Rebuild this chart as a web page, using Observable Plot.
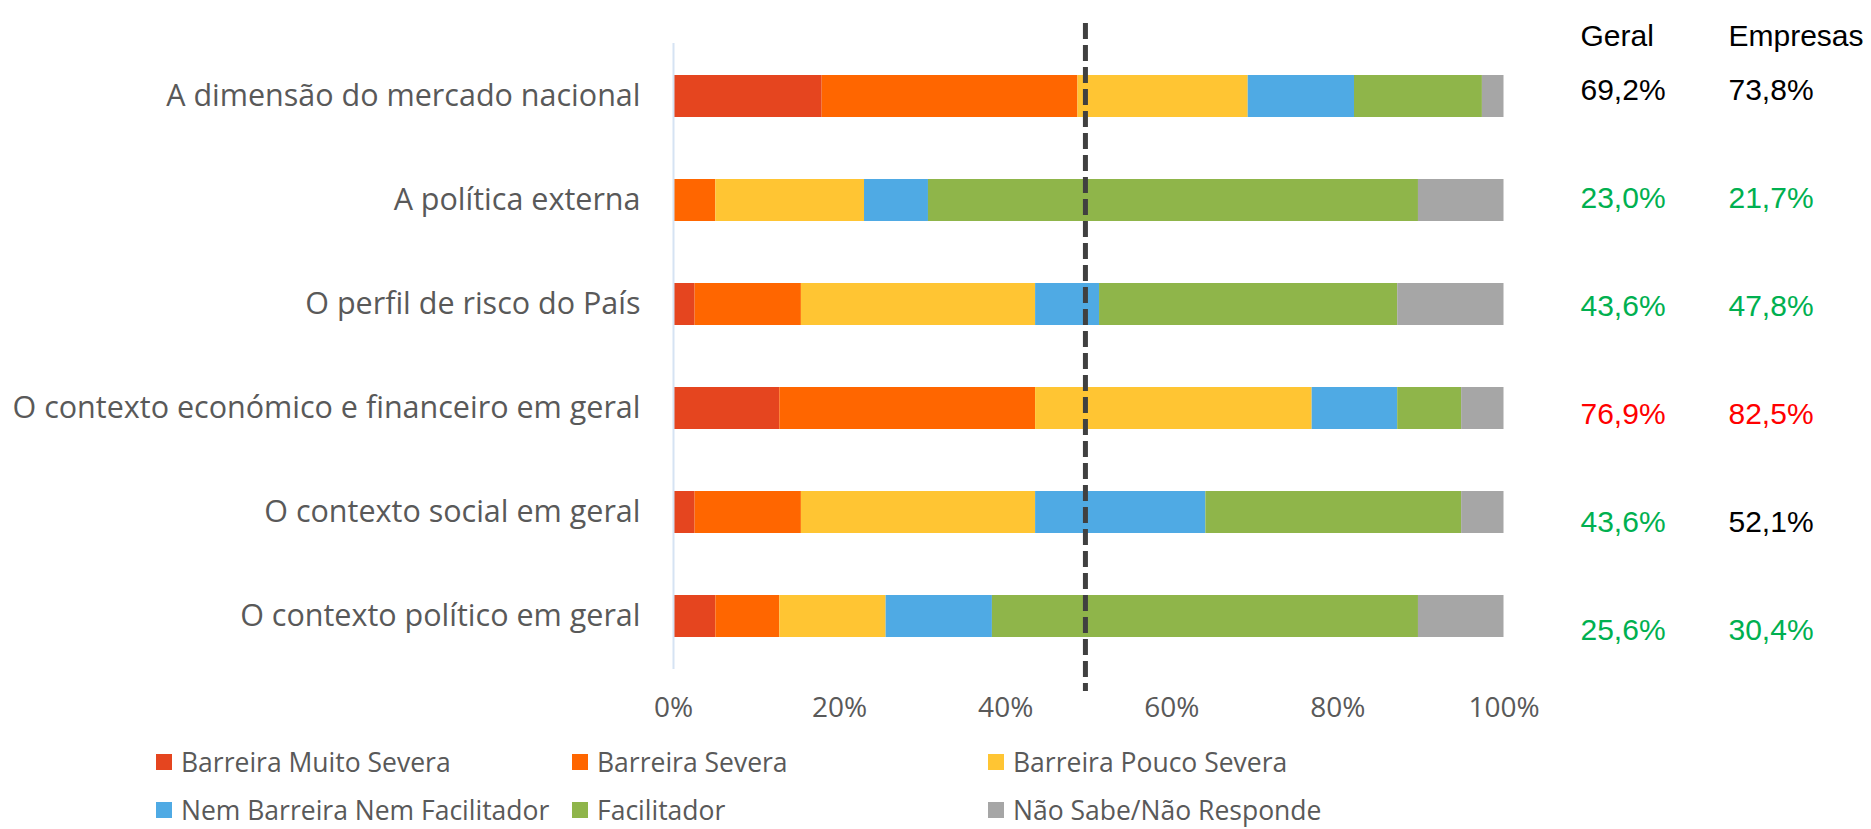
<!DOCTYPE html>
<html>
<head>
<meta charset="utf-8">
<script src="https://cdn.jsdelivr.net/npm/d3@7"></script>
<script src="https://cdn.jsdelivr.net/npm/@observablehq/plot@0.6"></script>
<style>
  html, body { margin: 0; padding: 0; background: #ffffff; }
  #wrap { position: relative; width: 1871px; height: 829px; overflow: hidden; background: #fff; }
  #main { position: absolute; left: 0; top: 0; }
  #table { position: absolute; left: 1520px; top: 0; }
  #legend { position: absolute; left: 156px; top: 738px; display: grid;
            grid-template-columns: 416px 416px auto; grid-auto-rows: 48px;
            font-family: "Open Sans", sans-serif; font-size: 26.5px; line-height: 26px; color: #595959; }
  #legend .item { display: flex; align-items: center; white-space: nowrap; }
  #legend .sw { width: 16px; height: 16px; margin-right: 9px; flex: none; }
</style>
</head>
<body>
<div id="wrap">
  <div id="main"></div>
  <div id="table"></div>
  <div id="legend"></div>
</div>
<script>
// ---- Data ----
const categories = [
  "A dimensão do mercado nacional",
  "A política externa",
  "O perfil de risco do País",
  "O contexto económico e financeiro em geral",
  "O contexto social em geral",
  "O contexto político em geral"
];
const seriesNames = [
  "Barreira Muito Severa",
  "Barreira Severa",
  "Barreira Pouco Severa",
  "Nem Barreira Nem Facilitador",
  "Facilitador",
  "Não Sabe/Não Responde"
];
const seriesColors = ["#E5451F", "#FF6600", "#FFC533", "#4FAAE4", "#8FB54A", "#A6A6A6"];

const barreiraMuitoSevera = [17.9, 0.0, 2.6, 12.8, 2.6, 5.1];
const barreiraSevera      = [30.8, 5.1, 12.8, 30.8, 12.8, 7.7];
const barreiraPoucoSevera = [20.5, 17.9, 28.2, 33.3, 28.2, 12.8];
const nemBarreiraNemFacil = [12.8, 7.7, 7.7, 10.3, 20.5, 12.8];
const facilitador         = [15.4, 59.0, 35.9, 7.7, 30.8, 51.3];
const naoSabeNaoResponde  = [2.6, 10.3, 12.8, 5.1, 5.1, 10.3];

const xTicks = [0, 20, 40, 60, 80, 100];
const referenceLine = 49.6;

const tableColumns = ["Geral", "Empresas"];
const geral    = [69.2, 23.0, 43.6, 76.9, 43.6, 25.6];
const empresas = [73.8, 21.7, 47.8, 82.5, 52.1, 30.4];

// ---- Build tables ----
const seriesValues = [barreiraMuitoSevera, barreiraSevera, barreiraPoucoSevera,
                      nemBarreiraNemFacil, facilitador, naoSabeNaoResponde];
const data = categories.flatMap((c, i) =>
  seriesNames.map((s, j) => ({category: c, series: s, value: seriesValues[j][i]})));

const tableData = categories.flatMap((c, i) => [
  {category: c, col: "Geral", value: geral[i]},
  {category: c, col: "Empresas", value: empresas[i]}
]);
const fmt = v => v.toFixed(1).replace(".", ",") + "%";
const valueColor = v => v < 50 ? "#00B050" : v > 75 ? "#FF0000" : "#000000";

// ---- Main chart ----
const main = Plot.plot({
  width: 1871,
  height: 740,
  marginLeft: 673,
  marginRight: 367.5,
  marginTop: 43,
  marginBottom: 71,
  style: {fontFamily: "'Open Sans', sans-serif", background: "#fff"},
  x: {domain: [0, 100], label: null},
  y: {domain: categories, paddingInner: 0.6, paddingOuter: 0.3, label: null},
  color: {domain: seriesNames, range: seriesColors},
  marks: [
    Plot.barX(data, {x: "value", y: "category", fill: "series"}),
    Plot.ruleX([0], {stroke: "#D6E3F3", strokeWidth: 2}),
    Plot.ruleX([referenceLine], {stroke: "#404040", strokeWidth: 5, strokeDasharray: "16,6",
                                 insetTop: -20, insetBottom: -22}),
    Plot.axisX(xTicks, {tickSize: 0, tickPadding: 28, fontSize: 28, color: "#595959",
                        tickFormat: d => d + "%", label: null}),
    Plot.axisY({tickSize: 0, tickPadding: 33, fontSize: 30.5, color: "#595959", label: null})
  ]
});
document.getElementById("main").appendChild(main);

// ---- Right table ----
const table = Plot.plot({
  width: 351,
  height: 700,
  margin: 0,
  style: {fontFamily: "'Liberation Sans', Arial, sans-serif", background: "transparent"},
  x: {type: "point", domain: tableColumns, range: [60, 208], padding: 0, axis: null},
  y: {type: "point", domain: categories, range: [89.5, 630], padding: 0, axis: null},
  marks: [
    Plot.text(tableColumns, {x: d => d, frameAnchor: "top", dy: 24, text: d => d,
                             textAnchor: "start", fontSize: 30, fill: "#000"}),
    Plot.text(tableData, {x: "col", y: "category", text: d => fmt(d.value),
                          fill: d => valueColor(d.value), textAnchor: "start", fontSize: 30})
  ]
});
document.getElementById("table").appendChild(table);

// ---- Legend ----
const legend = d3.select("#legend");
seriesNames.forEach((name, i) => {
  const item = legend.append("div").attr("class", "item");
  item.append("span").attr("class", "sw").style("background", seriesColors[i]);
  item.append("span").text(name);
});
</script>
</body>
</html>
